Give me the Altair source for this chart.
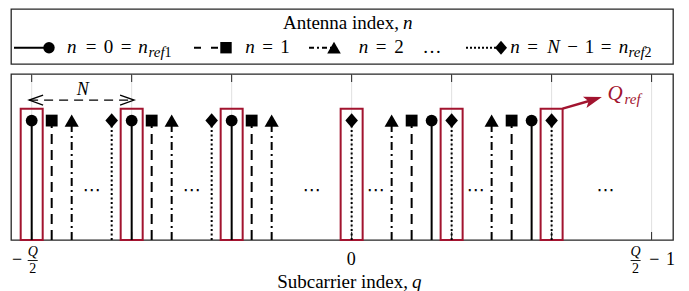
import altair as alt
import pandas as pd

# ---------------- data ----------------
ANTENNAS = ["n0", "n1", "n2", "nN1"]          # n = 0, 1, 2, N-1
STEMS_N0 = [-16, -11, -6, 4, 9]
STEMS_N1 = [-15, -10, -5, 3, 8]
STEMS_N2 = [-14, -9, -4, 2, 7]
STEMS_NN1 = [-12, -7, 0, 5, 10]
STEM_VALUE = 1.0
Q_REF = [-16, -11, -6, 0, 5, 10]
Q_TICKS = [-16, -11, -6, 0, 5, 10, 15]
ELLIPSIS_Q = [-13, -8, -2, 1.2, 6.2, 12.7]
N_PERIOD = [-16.13, -10.88]

# ---------------- layout / style ----------------
FONT = "Liberation Serif"
RED = "#A2142F"
FRAME = "#262626"
W, H = 662, 166
LEG_H = 55
X_DOM = [-17.035, 16.07]
Y_DOM = [0, 1.39]
PX = W / (X_DOM[1] - X_DOM[0])
BOX_HALF = 0.55
BOX_TOP = 1.1
ELL_Y = 0.41
N_ARROW_Y = 1.172
N_LABEL = (-13.45, 1.256)
QREF_LINE = (10.55, BOX_TOP, 12.085, 1.175)
QREF_Q = (13.17, 1.222)
QREF_SUB = (14.05, 1.18)

DIAMOND = "M0,-1.1L0.95,0L0,1.1L-0.95,0Z"
MARKER_STYLE = {   # antenna: (shape, size main, size legend, stem dash, legend dash)
    "n0": ("circle", 140, 130, [1, 0], [1, 0]),
    "n1": ("square", 140, 130, [10, 6], [7, 10]),
    "n2": ("triangle-up", 200, 185, [8, 4, 2, 4], [5, 3, 2, 3]),
    "nN1": (DIAMOND, 175, 160, [2, 2.5], [2, 2]),
}
xs = alt.Scale(domain=X_DOM, nice=False, zero=False)
ys = alt.Scale(domain=Y_DOM, nice=False, zero=False)


def X(f="q"):
    return alt.X(f"{f}:Q", scale=xs, axis=None)


def Y(f):
    return alt.Y(f"{f}:Q", scale=ys, axis=None)


rows = []
for n, qs in zip(ANTENNAS, [STEMS_N0, STEMS_N1, STEMS_N2, STEMS_NN1]):
    for q in qs:
        rows.append({"q": q, "n": n, "v": STEM_VALUE, "base": 0.0})
stem_df = pd.DataFrame(rows)
tick_df = pd.DataFrame({"q": Q_TICKS})

grid = alt.Chart(tick_df).mark_rule(color="#e0e0e0", strokeWidth=1).encode(x=X())
ticks_top = alt.Chart(tick_df).mark_rule(color=FRAME, strokeWidth=1).encode(
    x=X(), y=alt.value(0), y2=alt.value(8))
ticks_bot = alt.Chart(tick_df).mark_rule(color=FRAME, strokeWidth=1).encode(
    x=X(), y=alt.value(H - 8), y2=alt.value(H))

boxes = alt.Chart(pd.DataFrame({"q": Q_REF})).transform_calculate(
    xa=f"datum.q - {BOX_HALF}", xb=f"datum.q + {BOX_HALF}", ya="0", yb=str(BOX_TOP)
).mark_rect(fillOpacity=0, stroke=RED, strokeWidth=2).encode(
    x=X("xa"), x2="xb:Q", y=Y("ya"), y2="yb:Q")

stem_layers = []
for n in ANTENNAS:
    shp, sz, _, dash, _ = MARKER_STYLE[n]
    sub = alt.Chart(stem_df).transform_filter(f"datum.n == '{n}'")
    stem_layers.append(sub.mark_rule(color="black", strokeWidth=2, strokeDash=dash).encode(
        x=X(), y=Y("base"), y2="v:Q"))
    stem_layers.append(sub.mark_point(filled=True, color="black", opacity=1, shape=shp, size=sz).encode(
        x=X(), y=Y("v")))

ell = alt.Chart(pd.DataFrame({"q": ELLIPSIS_Q, "y": [ELL_Y] * len(ELLIPSIS_Q)})).mark_text(
    text="⋯", font="DejaVu Sans", fontSize=18, color="black", baseline="middle").encode(
    x=X(), y=Y("y"))

# N period arrow
na_df = pd.DataFrame({"qa": [N_PERIOD[0]], "qb": [N_PERIOD[1]], "y": [N_ARROW_Y]})
n_line = alt.Chart(na_df).mark_rule(color="black", strokeWidth=1.2, strokeDash=[9, 6]).encode(
    x=X("qa"), x2="qb:Q", y=Y("y"))
n_left = alt.Chart(na_df).mark_point(shape="M1.4,-0.5L0,0L1.4,0.5", filled=False, color="black",
                                     strokeWidth=1.3, size=400, opacity=1).encode(x=X("qa"), y=Y("y"))
n_right = alt.Chart(na_df).mark_point(shape="M-1.4,-0.5L0,0L-1.4,0.5", filled=False, color="black",
                                      strokeWidth=1.3, size=400, opacity=1).encode(x=X("qb"), y=Y("y"))
n_text = alt.Chart(pd.DataFrame({"q": [N_LABEL[0]], "y": [N_LABEL[1]]})).mark_text(
    text="N", font=FONT, fontStyle="italic", fontSize=18, baseline="middle").encode(x=X(), y=Y("y"))

# Q_ref arrow
qr_df = pd.DataFrame({"qa": [QREF_LINE[0]], "ya": [QREF_LINE[1]], "qb": [QREF_LINE[2]], "yb": [QREF_LINE[3]]})
qr_line = alt.Chart(qr_df).mark_rule(color=RED, strokeWidth=2.5).encode(
    x=X("qa"), x2="qb:Q", y=Y("ya"), y2="yb:Q")
qr_head = alt.Chart(qr_df).mark_point(shape="M1,0L-1,-0.65L-0.55,0L-1,0.65Z", filled=True, color=RED,
                                      size=324, angle=342.5, opacity=1).encode(x=X("qb"), y=Y("yb"))
qr_t1 = alt.Chart(pd.DataFrame({"q": [QREF_Q[0]], "y": [QREF_Q[1]]})).mark_text(
    text="Q", font=FONT, fontStyle="italic", fontSize=21, color=RED, baseline="middle").encode(x=X(), y=Y("y"))
qr_t2 = alt.Chart(pd.DataFrame({"q": [QREF_SUB[0]], "y": [QREF_SUB[1]]})).mark_text(
    text="ref", font=FONT, fontStyle="italic", fontSize=15, color=RED, baseline="middle").encode(x=X(), y=Y("y"))

# x-axis labels (pieces anchored to tick values)
LABEL_PIECES = [
    # tick, text, dx, y(px), size, style
    (-16, "\u2212", -14.5, 186, 18, "normal"),
    (-16, "Q", 1, 178, 14, "italic"),
    (-16, "2", 1, 195, 14, "normal"),
    (0, "0", -0.5, 186, 18, "normal"),
    (15, "Q", -16, 178, 14, "italic"),
    (15, "2", -16, 195, 14, "normal"),
    (15, "\u2212", 2.7, 186, 18, "normal"),
    (15, "1", 19, 186, 18, "normal"),
]
label_layers = []
for t, txt, dx, ypx, fs, st in LABEL_PIECES:
    label_layers.append(
        alt.Chart(pd.DataFrame({"q": [t]})).mark_text(
            text=txt, dx=dx, font=FONT, fontSize=fs, fontStyle=st, baseline="middle", color="black"
        ).encode(x=X(), y=alt.value(ypx)))
FRAC = [(-16, 1), (15, -16)]
frac_df = pd.DataFrame({"q": [f[0] for f in FRAC], "d": [f[1] for f in FRAC]})
frac = alt.Chart(frac_df).transform_calculate(
    xa=f"datum.q + (datum.d - 5) / {PX}", xb=f"datum.q + (datum.d + 5) / {PX}"
).mark_rule(color="black", strokeWidth=0.9).encode(x=X("xa"), x2="xb:Q", y=alt.value(186.5))

title_a = alt.Chart(pd.DataFrame({"a": [0]})).mark_text(
    text="Subcarrier index,", font=FONT, fontSize=19, align="right", baseline="alphabetic").encode(
    x=alt.value(397), y=alt.value(214))
title_b = alt.Chart(pd.DataFrame({"a": [0]})).mark_text(
    text="q", font=FONT, fontSize=19, fontStyle="italic", align="left", baseline="alphabetic").encode(
    x=alt.value(401), y=alt.value(214))

main = alt.layer(
    grid, ticks_top, ticks_bot, boxes, *stem_layers, ell,
    n_line, n_left, n_right, n_text, qr_line, qr_head, qr_t1, qr_t2,
    *label_layers, frac, title_a, title_b
).properties(width=W, height=H)

# ---------------- legend panel ----------------
LEG_ROW = 38.7
leg_lines = pd.DataFrame({"n": ANTENNAS, "x1": [3, 183, 298, 455], "x2": [38, 215, 323, 490],
                          "y": [LEG_ROW] * 4})
PXS = alt.Scale(domain=[0, W], range=[0, W])
PYS = alt.Scale(domain=[0, LEG_H], range=[0, LEG_H])
leg_layers = []
for n in ANTENNAS:
    shp, _, lsz, _, ldash = MARKER_STYLE[n]
    sub = alt.Chart(leg_lines).transform_filter(f"datum.n == '{n}'")
    leg_layers.append(sub.mark_rule(color="black", strokeWidth=2, strokeDash=ldash).encode(
        x=alt.X("x1:Q", scale=PXS, axis=None), x2="x2:Q", y=alt.Y("y:Q", scale=PYS, axis=None)))
    leg_layers.append(sub.mark_point(filled=True, color="black", opacity=1, shape=shp, size=lsz).encode(
        x=alt.X("x2:Q", scale=PXS, axis=None), y=alt.Y("y:Q", scale=PYS, axis=None)))

BL, SB, TB = 43.7, 47.5, 19.7
LEG_TEXT = [
    (388, TB, "Antenna index,", "title_r"), (392, TB, "n", "title_it"),
    (60.8, BL, "n", "it"), (80, BL, "=", "rm"), (97.5, BL, "0", "rm"), (115, BL, "=", "rm"),
    (132, BL, "n", "it"), (137.5, SB, "ref", "sub_it"), (153.5, SB, "1", "sub_rm"),
    (239, BL, "n", "it"), (256.5, BL, "=", "rm"), (274, BL, "1", "rm"),
    (352.5, BL, "n", "it"), (370, BL, "=", "rm"), (388, BL, "2", "rm"),
    (421, BL, "\u2026", "rm"),
    (504, BL, "n", "it"), (521.5, BL, "=", "rm"), (542.5, BL, "N", "it"), (561.5, BL, "\u2212", "rm"),
    (578.5, BL, "1", "rm"), (595, BL, "=", "rm"), (612.5, BL, "n", "it"),
    (617.5, SB, "ref", "sub_it"), (633.5, SB, "2", "sub_rm"),
]
lt_df = pd.DataFrame(LEG_TEXT, columns=["x", "y", "t", "s"])
STYLES = {
    "title_r": dict(fontSize=19, fontStyle="normal", align="right"),
    "title_it": dict(fontSize=19, fontStyle="italic", align="left"),
    "it": dict(fontSize=19, fontStyle="italic", align="center"),
    "rm": dict(fontSize=19, fontStyle="normal", align="center"),
    "sub_it": dict(fontSize=15, fontStyle="italic", align="left"),
    "sub_rm": dict(fontSize=14, fontStyle="normal", align="left"),
}
l_texts = []
for s, kw in STYLES.items():
    l_texts.append(
        alt.Chart(lt_df).transform_filter(f"datum.s == '{s}'").mark_text(
            font=FONT, baseline="alphabetic", color="black", **kw).encode(
            x=alt.X("x:Q", scale=PXS, axis=None), y=alt.Y("y:Q", scale=PYS, axis=None), text="t:N"))

legend = alt.layer(*leg_layers, *l_texts).properties(width=W, height=LEG_H)

chart = alt.vconcat(legend, main, spacing=7).properties(
    padding={"left": 2, "top": 0, "right": 0, "bottom": 0}
).configure(background="white").configure_view(stroke=FRAME, strokeWidth=1.3)

chart.save("out.html", embed_options={"renderer": "svg", "actions": False})
